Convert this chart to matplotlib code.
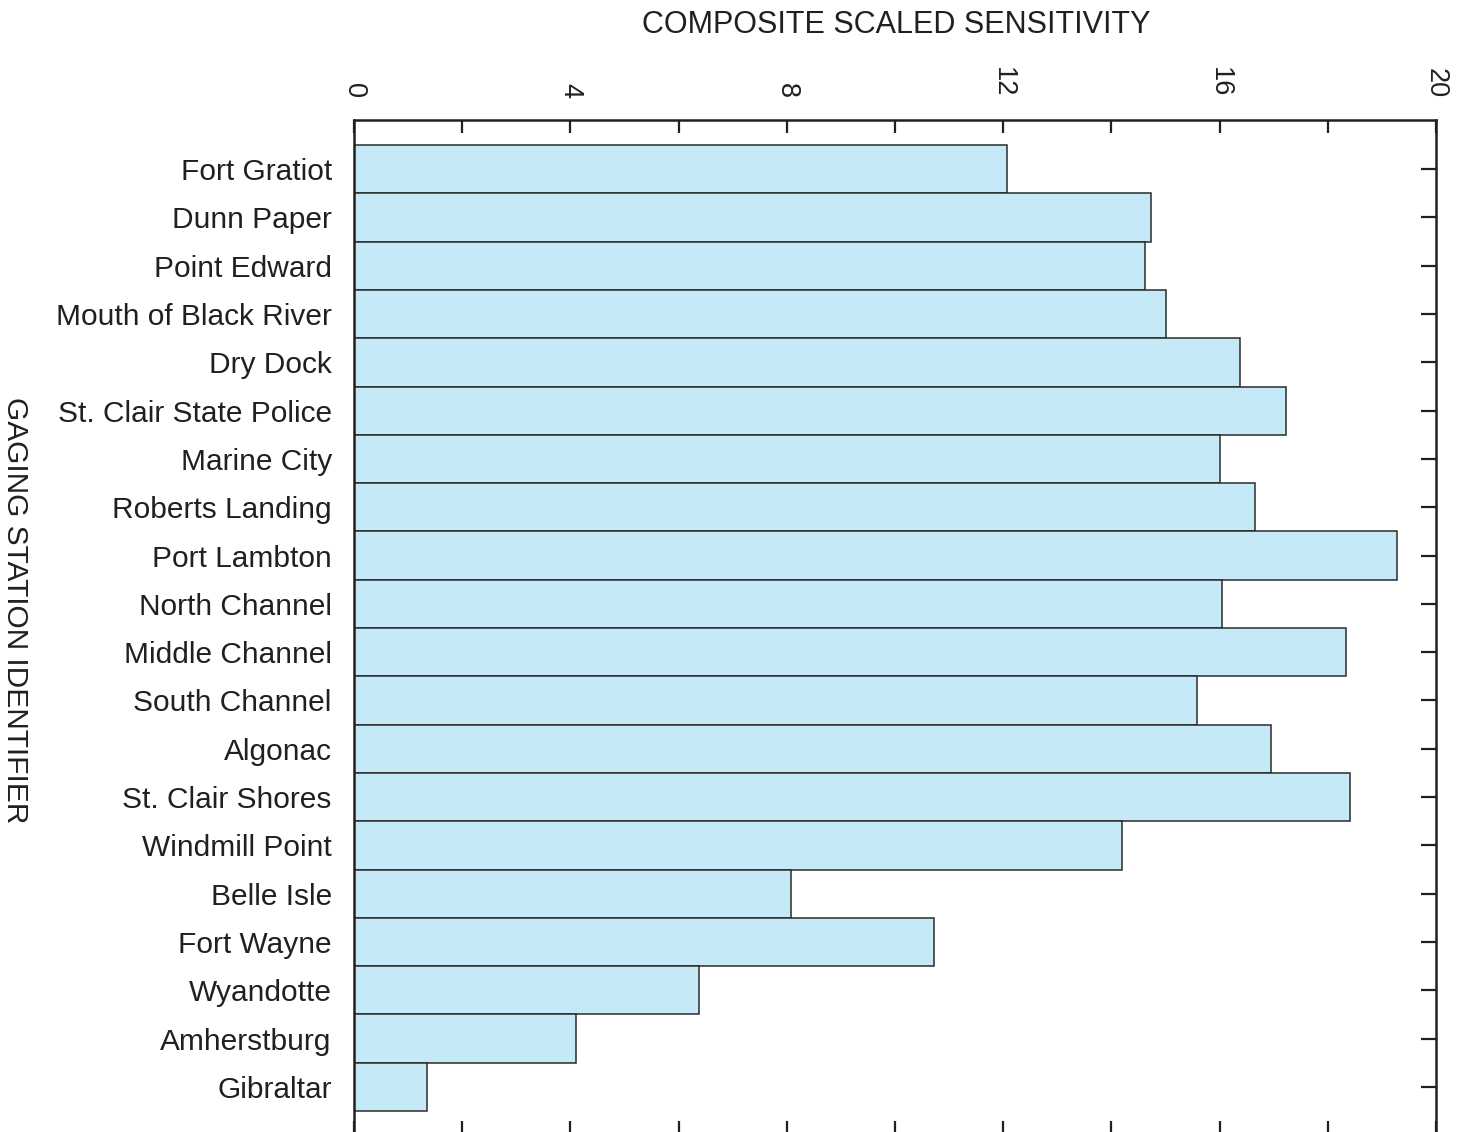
import matplotlib
matplotlib.use("Agg")
import matplotlib.pyplot as plt
import numpy as np

plt.rcParams['font.family'] = ['Liberation Sans', 'DejaVu Sans']

stations = [
    "Fort Gratiot", "Dunn Paper", "Point Edward", "Mouth of Black River",
    "Dry Dock", "St. Clair State Police", "Marine City", "Roberts Landing",
    "Port Lambton", "North Channel", "Middle Channel", "South Channel",
    "Algonac", "St. Clair Shores", "Windmill Point", "Belle Isle",
    "Fort Wayne", "Wyandotte", "Amherstburg", "Gibraltar",
]
sensitivity = [
    12.07, 14.73, 14.62, 15.01, 16.38, 17.23, 16.01, 16.65, 19.28, 16.04,
    18.34, 15.58, 16.95, 18.41, 14.20, 8.08, 10.72, 6.38, 4.10, 1.35,
]
major_ticks = [0, 4, 8, 12, 16, 20]
minor_ticks = [2, 6, 10, 14, 18]

W, H = 1462, 1132
fig = plt.figure(figsize=(W / 100, H / 100), dpi=100)
ax = fig.add_axes([354 / W, -1 / H, 1082 / W, 1013 / H])

pos = np.arange(len(stations))
ax.barh(pos, sensitivity, height=1.0, color='#C6E9F8', edgecolor='#2b2b2b',
        linewidth=1.1, zorder=2)

ax.set_xlim(0, 20)
ax.set_ylim(19.955, -1.018)

ax.xaxis.tick_top()
ax.set_xticks(major_ticks)
ax.set_xticks(minor_ticks, minor=True)
ax.set_xticklabels([str(t) for t in major_ticks], rotation=-90)
ax.tick_params(axis='x', which='both', direction='in', length=9, width=1.6,
               top=True, bottom=True, labeltop=True, labelbottom=False,
               labelsize=19.5, pad=16, color='#231f20', labelcolor='#231f20')

ax.set_yticks(pos)
ax.set_yticklabels(stations)
ax.tick_params(axis='y', direction='in', length=11, width=1.6, left=True,
               right=True, labelsize=21.5, pad=16, color='#231f20',
               labelcolor='#231f20')

for s in ax.spines.values():
    s.set_linewidth(1.8)
    s.set_color('#231f20')

fig.text(896 / W, 1 - 25 / H, "COMPOSITE SCALED SENSITIVITY", ha='center',
         va='center', fontsize=22, color='#231f20')
fig.text(15 / W, 1 - 610 / H, "GAGING STATION IDENTIFIER", ha='center',
         va='center', rotation=-90, fontsize=21.5, color='#231f20')

fig.savefig("out.png", dpi=100)
